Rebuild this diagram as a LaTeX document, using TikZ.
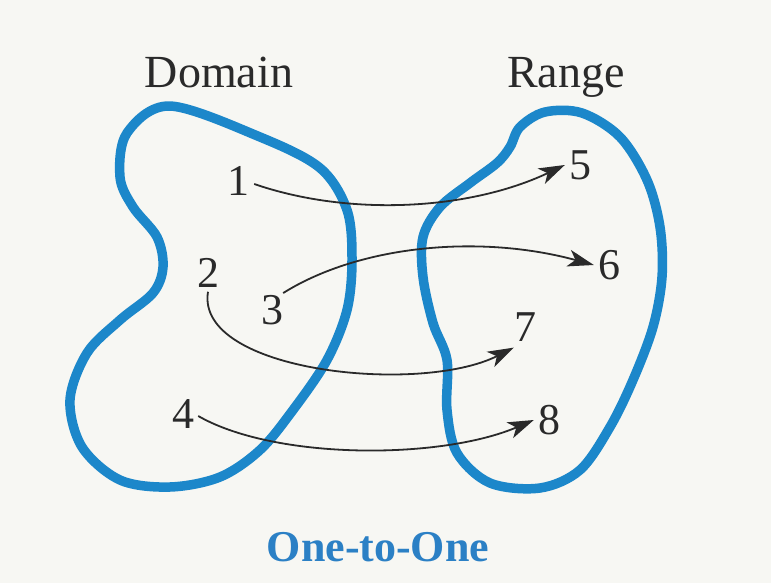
\documentclass[tikz,border=0pt]{standalone}
\usepackage{fontspec}
\setmainfont{Liberation Serif}
\usetikzlibrary{arrows.meta}
\definecolor{bg}{HTML}{F7F7F3}
\definecolor{blobblue}{HTML}{1C87CA}
\definecolor{titleblue}{HTML}{2B80C5}
\definecolor{ink}{HTML}{2A2A2A}
\tikzset{
  blob/.style={draw=blobblue, line width=9.5pt, line join=round},
  num/.style={text=ink, inner sep=2pt, font=\fontsize{44}{44}\selectfont},
  head/.style={text=ink, inner sep=0pt, anchor=base, font=\fontsize{46}{46}\selectfont},
  mapto/.style={draw=ink, line width=1.8pt, -{Stealth[length=26pt,width=17pt,inset=7pt]}}
}
\begin{document}
\begin{tikzpicture}[x=1pt,y=-1pt]
\fill[bg] (0,0) rectangle (771,583);
\useasboundingbox (0,0) rectangle (771,583);
% blobs
\draw[blob] plot[smooth cycle, tension=0.55] coordinates {
 (127,133) (170,106) (260,137) (320,168) (347,210) (352,260) (347,310)
 (327,360) (293,410) (260,450) (220,477) (170,487) (120,480) (82,447)
 (70,400) (87,353) (120,320) (153,293) (163,267) (157,237) (133,207)
 (120,177)};
\draw[blob] plot[smooth cycle, tension=0.55] coordinates {
 (520,127) (545,112) (582,113) (620,137) (647,180) (660,227) (662,277)
 (653,327) (633,380) (610,427) (580,470) (540,488) (490,483) (457,453)
 (447,410) (447,360) (433,323) (423,277) (423,237) (440,207) (470,183)
 (497,163) (510,147)};
% headings
\node[head] (dom) at (219,88) {Domain};
\node[head] (rng) at (566,88) {Range};
\node[text=titleblue, font=\fontsize{44}{44}\selectfont\bfseries] (title) at (378,547) {One-to-One};
% numbers
\node[num] (n1) at (238,181) {1};
\node[num] (n2) at (208,273) {2};
\node[num] (n3) at (272,310) {3};
\node[num] (n4) at (183,414) {4};
\node[num] (n5) at (580,165) {5};
\node[num] (n6) at (609,265) {6};
\node[num] (n7) at (525,327) {7};
\node[num] (n8) at (549,420) {8};
% arrows
\draw[mapto] ([xshift=3pt,yshift=-3pt]n1.east) .. controls (350,217) and (470,210) .. ([xshift=-2pt]n5.west);
\draw[mapto] ([xshift=-2pt]n3.north east) .. controls (360,245) and (480,234) .. ([xshift=-2pt]n6.west);
\draw[mapto] ([yshift=-2pt]n2.south) .. controls (195,372) and (420,395) .. ([xshift=2pt,yshift=-4pt]n7.south west);
\draw[mapto] ([xshift=2pt,yshift=-2pt]n4.east) .. controls (275,460) and (440,460) .. ([xshift=-2pt]n8.west);
\end{tikzpicture}
\end{document}
